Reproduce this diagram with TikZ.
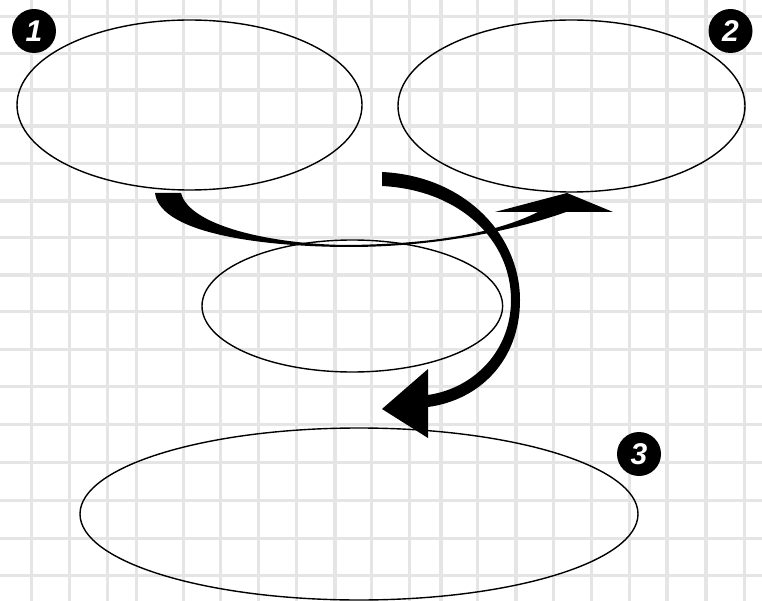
\documentclass[tikz,border=0pt]{standalone}
\usepackage{fontspec}
\newfontfamily\badgefont{Liberation Sans}
\begin{document}
\begin{tikzpicture}[x=1pt,y=-1pt,
  gridline/.style={draw=black!10,line width=3.3pt},
  oval/.style={draw=black,line width=1.4pt},
  badge/.style={circle,fill=black,minimum size=44pt,inner sep=0pt,text=white,font=\badgefont\bfseries\itshape\fontsize{30}{30}\selectfont},
  bigarrow/.style={fill=black,draw=none}]
\useasboundingbox (0,0) rectangle (762,601);
\fill[white] (0,0) rectangle (762,601);
% grid
\foreach \gx in {31.7,69.3,107.3,136.7,183.3,220.7,258.3,296.7,335,371.7,409.3,441,477.7,516,553.7,591.7,629.3,667,706,744.3}
  \draw[gridline] (\gx,0) -- (\gx,601);
\foreach \gy in {16.7,53.3,90,126,163.3,201,237.3,275,311.7,349.3,386.7,424.3,462.7,500.7,538.3,575.7}
  \draw[gridline] (0,\gy) -- (762,\gy);
% ellipses
\draw[oval] (189.5,105) ellipse [x radius=172.5pt, y radius=85pt];
\draw[oval] (571.5,106) ellipse [x radius=173.5pt, y radius=86pt];
\draw[oval] (352.3,306) ellipse [x radius=150.3pt, y radius=66pt];
\draw[oval] (359,514) ellipse [x radius=279pt, y radius=86pt];
\coordinate (e1) at (189.5,105);
\coordinate (e2) at (571.5,106);
\coordinate (e3) at (359,514);
% arrow 1 -> 2
\fill[bigarrow] (155,193) .. controls (160,235) and (270,247) .. (350,247)
  .. controls (430,247) and (510,232) .. (566,212)
  -- (613,212) -- (567,193) -- (495,212) -- (538,212)
  .. controls (490,236) and (420,244) .. (350,245)
  .. controls (280,245) and (190,228) .. (181,193) -- cycle;
% arrow 2 -> 3
\fill[bigarrow] (382,172) .. controls (465,176) and (520,235) .. (520,300)
  .. controls (520,360) and (480,400) .. (428,407)
  -- (428,438) -- (382,409) -- (428,369) -- (428,395)
  .. controls (475,388) and (511,350) .. (511,300)
  .. controls (511,240) and (460,190) .. (382,186) -- cycle;
% badges
\node[badge] (b1) at (34,31) {1};
\node[badge] (b2) at (730.5,31) {2};
\node[badge] (b3) at (639,454) {3};
\end{tikzpicture}
\end{document}
